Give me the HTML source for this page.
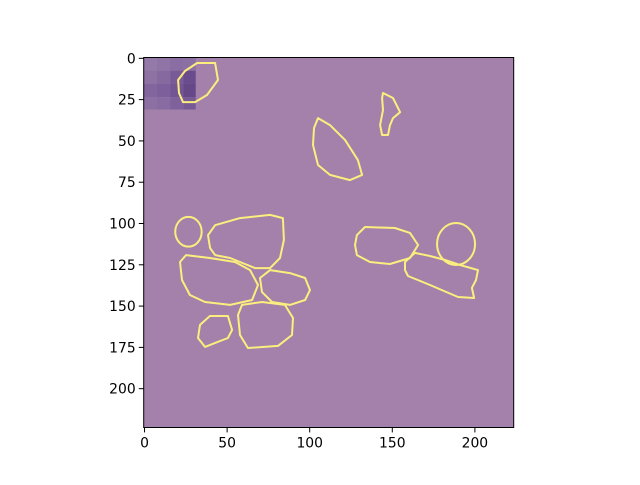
<!DOCTYPE html>
<html><head><meta charset="utf-8"><style>
body{margin:0;background:#fff;}
svg text{font-family:"DejaVu Sans","Liberation Sans",sans-serif;font-size:13.9px;fill:#000;}
</style></head><body>
<svg id="chart" width="640" height="480" xmlns="http://www.w3.org/2000/svg">
<rect width="640" height="480" fill="#fff"/>
<g id="plot"></g>
<g id="axes"></g>
</svg>
<script>
const xTicks=[0,50,100,150,200];
const yTicks=[0,25,50,75,100,125,150,175,200];
const patchCells=[[0,0,"#937aa8"],[8,0,"#8f74a5"],[16,0,"#8a6da2"],[24,0,"#8d70a3"],[0,8,"#8e72a4"],[8,8,"#86699f"],[16,8,"#785a96"],[24,8,"#6a4b8c"],[0,16,"#82659d"],[8,16,"#7d609b"],[16,16,"#735594"],[24,16,"#664889"],[0,24,"#8c70a3"],[8,24,"#886ca1"],[16,24,"#7f629c"],[24,24,"#775a95"]];
const ellipses=[[26.6,105,8,9],[188.6,112.4,11.5,12.7]];
const contours=[
[[20.3,13.1],[24.5,7.7],[31.8,2.8],[42.7,2.8],[44.5,13.1],[37.8,22.2],[30.6,26.5],[23.3,26.5],[20.9,21]],
[[105,36.2],[112.3,40.4],[121.4,49.5],[129.2,61.6],[131.7,70.6],[124.4,73.7],[112.3,70.6],[105,64.6],[102,52.5],[102.6,42.2]],
[[144.4,21],[150.4,24],[154.7,32.6],[150.4,36.2],[148.6,40.4],[147.4,46.4],[143.8,46.4],[142.6,40.4],[144.4,31.3],[143.8,24]],
[[38.4,107.1],[42.7,101],[57.8,96.7],[76,94.8],[83.8,96.7],[84.4,110],[82,120.9],[76,127],[66.9,127],[57.8,123.3],[51.8,120.9],[42.7,119.1],[39.7,114.9]],
[[21.5,123.3],[25.1,119.1],[39.6,120.9],[54.8,123.3],[63.9,128.2],[68.7,137.2],[65.1,146.3],[51.8,149.3],[36.6,147.5],[27.5,143.3],[22.7,134.2]],
[[69.9,133],[76,128.2],[88.1,130],[97.2,133],[100.2,140.3],[97.2,146.3],[88.1,149.3],[77.2,147.5],[71.1,141.5]],
[[59,149.3],[71.1,147.5],[85,149.3],[89.9,157.2],[89.3,167.5],[80.8,174.1],[62.6,175.4],[57.8,167.5],[56.6,155.4]],
[[33.6,161.4],[39.6,156],[50.5,156],[53,164.4],[50.5,169.3],[42.7,172.3],[36.6,174.7],[32.4,169.3]],
[[128.6,107],[133.5,102.1],[151.6,102.7],[160.7,105.7],[165.6,113],[160.7,120.9],[148.6,124.5],[136.5,123.3],[128.6,119.1],[127.4,113]],
[[157.7,123.3],[163.7,117.8],[172.8,119.7],[181.9,122.1],[191,125.1],[201.9,128.2],[200.7,134.2],[198.2,139],[199.5,145.1],[189.8,144.5],[172.8,137.2],[159.5,131.8],[157.7,128.2]]
];
const L=143.7,T=57.5,S=370/224;
function sx(v){return L+(v+0.5)*S;}
function sy(v){return T+(v+0.5)*S;}
const NS="http://www.w3.org/2000/svg";
function mk(tag,attrs,parent){const e=document.createElementNS(NS,tag);for(const k in attrs)e.setAttribute(k,attrs[k]);parent.appendChild(e);return e;}
const plot=document.getElementById('plot'),axes=document.getElementById('axes');
const bg=mk('rect',{x:L,y:T,width:370,height:370,fill:'#a381aa'},plot);


patchCells.forEach(c=>{
 const r=mk('rect',{x:sx(c[0]-0.5),y:sy(c[1]-0.5),width:(c[0]===24?7.5:8)*S,height:(c[1]===24?7.5:8)*S,fill:c[2]},plot);
 
 
});
const stroke='#fcee7e';
ellipses.forEach(e=>{
 const el=mk('ellipse',{cx:sx(e[0]),cy:sy(e[1]),rx:e[2]*S,ry:e[3]*S,fill:'none',stroke:stroke,'stroke-width':2},plot);
 
 
});
contours.forEach(c=>{
 const p=mk('polygon',{points:c.map(q=>sx(q[0]).toFixed(1)+','+sy(q[1]).toFixed(1)).join(' '),fill:'none',stroke:stroke,'stroke-width':2,'stroke-linejoin':'round'},plot);
 
 
});
const frame=mk('rect',{x:L,y:T,width:370,height:370,fill:'none',stroke:'#000','stroke-width':1},axes);


xTicks.forEach(v=>{
 const x=sx(v);
 const t=mk('line',{x1:x,y1:T+370,x2:x,y2:T+374.9,stroke:'#000','stroke-width':1},axes);
 
 
 const l=mk('text',{x:x,y:T+390,'text-anchor':'middle'},axes);l.textContent=v;
 
 
});
yTicks.forEach(v=>{
 const y=sy(v);
 const t=mk('line',{x1:L-4.9,y1:y,x2:L,y2:y,stroke:'#000','stroke-width':1},axes);
 
 
 const l=mk('text',{x:L-8,y:y+5,'text-anchor':'end'},axes);l.textContent=v;
 
 
});
</script>
</body></html>
